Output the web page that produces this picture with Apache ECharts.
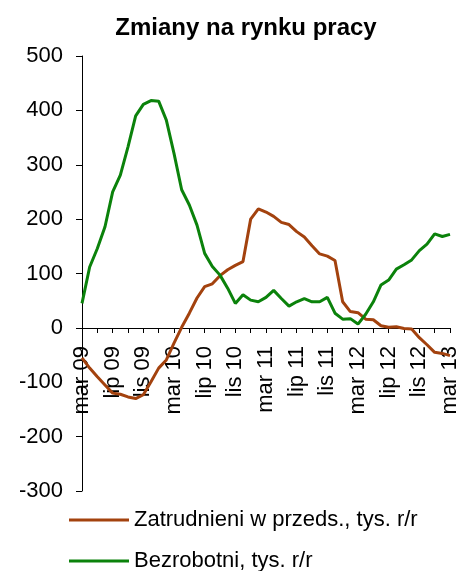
<!DOCTYPE html>
<html>
<head>
<meta charset="utf-8">
<script src="https://cdn.jsdelivr.net/npm/echarts@6/dist/echarts.min.js"></script>
<style>
  html, body { margin: 0; padding: 0; background: #fff; }
  #chart { width: 460px; height: 571px; }
</style>
</head>
<body>
<div id="chart"></div>
<script>
const months = [
    "mar 09", "kwi 09", "maj 09", "cze 09", "lip 09", "sie 09", "wrz 09", "paź 09", "lis 09", "gru 09", "sty 10", "lut 10",
    "mar 10", "kwi 10", "maj 10", "cze 10", "lip 10", "sie 10", "wrz 10", "paź 10", "lis 10", "gru 10", "sty 11", "lut 11",
    "mar 11", "kwi 11", "maj 11", "cze 11", "lip 11", "sie 11", "wrz 11", "paź 11", "lis 11", "gru 11", "sty 12", "lut 12",
    "mar 12", "kwi 12", "maj 12", "cze 12", "lip 12", "sie 12", "wrz 12", "paź 12", "lis 12", "gru 12", "sty 13", "lut 13",
    "mar 13"
];

// Zatrudnieni w przeds., tys. r/r
const zatrudnieni = [
    -55, -74, -90, -105, -120, -122, -127, -130, -123, -99, -74, -59,
    -28, 1, 27, 55, 76, 81, 96, 107, 115, 122, 200, 219,
    213, 205, 194, 190, 177, 167, 151, 136, 132, 124, 48, 30,
    28, 16, 15, 4, 1, 2, -1, -2, -18, -31, -45, -47,
    -51
];

// Bezrobotni, tys. r/r
const bezrobotni = [
    45, 112, 146, 186, 250, 281, 333, 390, 411, 418, 417, 382,
    321, 254, 226, 189, 137, 113, 97, 73, 45, 61, 51, 48,
    56, 69, 54, 40, 48, 54, 48, 48, 56, 27, 16, 17,
    7, 25, 48, 79, 88, 108, 116, 125, 142, 154, 173, 168,
    172
];

const seriesNames = ["Zatrudnieni w przeds., tys. r/r", "Bezrobotni, tys. r/r"];
const colors = ["#A3420E", "#0B820B"];

const chart = echarts.init(document.getElementById("chart"));
const font = "'Liberation Sans', Arial, sans-serif";

// the x axis sits on the zero line: move it up from the grid bottom
const zeroOffset = -163;

const option = {
    animation: false,
    textStyle: { fontFamily: font },
    title: {
        text: "Zmiany na rynku pracy",
        left: 241,
        textAlign: "center",
        top: 11,
        textStyle: { fontSize: 24, fontWeight: "bold", color: "#000", fontFamily: font },
    },
    legend: {
        orient: "vertical",
        left: 69,
        top: 509,
        height: 100,
        padding: 0,
        itemWidth: 60,
        itemHeight: 3,
        itemGap: 19,
        icon: "rect",
        textStyle: { fontSize: 22, color: "#000", fontFamily: font },
        data: seriesNames,
    },
    grid: {
        left: 82,
        right: 10,
        top: 56,
        bottom: 80,
        outerBoundsMode: "none",
    },
    xAxis: {
        type: "category",
        data: months,
        boundaryGap: false,
        offset: zeroOffset,
        axisLine: { onZero: false, lineStyle: { color: "#000", width: 1 } },
        axisTick: { interval: 1, length: 5, lineStyle: { color: "#000" } },
        axisLabel: {
            interval: 3,
            rotate: 90,
            margin: 18,
            fontSize: 22,
            color: "#000",
            fontFamily: font,
        },
        splitLine: { show: false },
    },
    yAxis: {
        type: "value",
        min: -300,
        max: 500,
        interval: 100,
        axisLine: { show: true, lineStyle: { color: "#000", width: 1 } },
        axisTick: { show: true, length: 6, lineStyle: { color: "#000" } },
        axisLabel: { fontSize: 22, color: "#000", margin: 19, fontFamily: font },
        splitLine: { show: false },
    },
    series: [
        {
            name: seriesNames[0],
            type: "line",
            symbol: "none",
            data: zatrudnieni,
            itemStyle: { color: colors[0] },
            lineStyle: { color: colors[0], width: 3 },
        },
        {
            name: seriesNames[1],
            type: "line",
            symbol: "none",
            data: bezrobotni,
            itemStyle: { color: colors[1] },
            lineStyle: { color: colors[1], width: 3 },
        },
    ],
};

chart.setOption(option);
</script>
</body>
</html>
